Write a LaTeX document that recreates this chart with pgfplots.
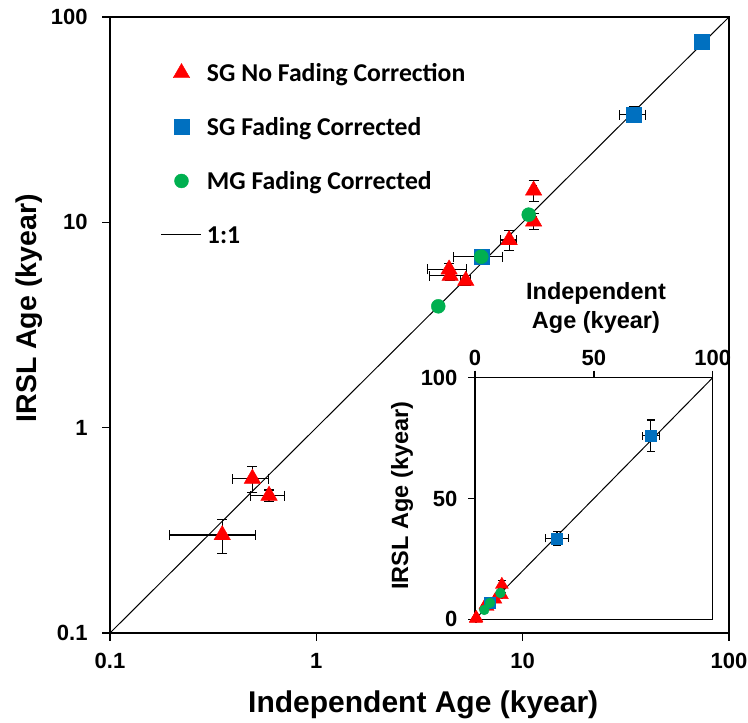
\documentclass[border=0pt]{standalone}
\usepackage{pgfplots}
\pgfplotsset{compat=1.18}
\usepackage{fontspec}
\setmainfont{Liberation Sans}
\newfontfamily\calib{Carlito}
\definecolor{sgred}{RGB}{255,0,0}
\definecolor{sgblue}{RGB}{0,112,192}
\definecolor{mggreen}{RGB}{0,176,80}

\pgfplotsset{
  eb/.style={error bars/.cd, x dir=both, x explicit, y dir=both, y explicit,
    error bar style={black, line width=1.1pt},
    error mark options={rotate=90, black, mark size=5pt, line width=1.1pt}},
  ebs/.style={error bars/.cd, x dir=both, x explicit, y dir=both, y explicit,
    error bar style={black, line width=1.1pt},
    error mark options={rotate=90, black, mark size=4pt, line width=1.1pt}},
}

\begin{document}
\begin{tikzpicture}
\useasboundingbox (-110pt,-90pt) rectangle (638pt,633pt);
\begin{axis}[
  at={(0pt,0pt)}, anchor=south west,
  scale only axis, width=619pt, height=616pt,
  xmode=log, ymode=log, xmin=0.1, xmax=100, ymin=0.1, ymax=100,
  xtick={0.1,1,10,100}, xticklabels={0.1,1,10,100},
  ytick={0.1,1,10,100}, yticklabels={0.1,1,10,100},
  xminorticks=false, yminorticks=false,
  xtick pos=left, ytick pos=left,
  tick align=outside, major tick length=8pt,
  major tick style={black, line width=1.3pt},
  axis line style={black, line width=1.5pt},
  tick label style={font=\fontsize{22}{26}\selectfont\bfseries},
  xticklabel style={yshift=-9pt},
  yticklabel style={xshift=-11pt},
  xlabel={Independent Age (kyear)},
  ylabel={IRSL Age (kyear)},
  xlabel style={font=\fontsize{30}{36}\selectfont\bfseries, at={(axis description cs:0.506,-0.117)}, anchor=center},
  ylabel style={font=\fontsize{28.5}{34}\selectfont\bfseries, at={(axis description cs:-0.131,0.527)}, anchor=center},
  legend image code/.code={\draw[mark repeat=2,mark phase=2] plot coordinates {(0pt,0pt)(20pt,0pt)(40pt,0pt)};},
  legend cell align=left,
  legend style={draw=none, fill=none, at={(axis description cs:0.0824,0.927)}, anchor=north west,
    inner sep=0pt, outer sep=0pt, row sep=32pt, column sep=5pt,
    font=\calib\bfseries\fontsize{25.7}{30}\selectfont,
    nodes={inner sep=0pt, text height=19.2pt, text depth=2.8pt}},
]
\addplot[only marks, color=sgred, mark=triangle*, mark size=9.5pt, mark options={fill=sgred, draw=sgred}, eb]
  coordinates {
  (0.35,0.30) +- (0.155,0.057)
  (0.49,0.565) +- (0.098,0.08)
  (0.59,0.467) +- (0.11,0.03)
  (4.4,5.9) +- (0.95,0.4)
  (4.45,5.5) +- (0.9,0.3)
  (5.3,5.2) +- (0.3,0.3)
  (8.6,8.2) +- (0.77,0.9)
  (11.3,14.3) +- (0.3,1.7)
  (11.3,10.1) +- (0.3,0.9)
  };
\addlegendentry{SG No Fading Correction}
\addplot[only marks, color=sgblue, mark=square*, mark size=7.5pt, mark options={fill=sgblue, draw=sgblue}, eb]
  coordinates {
  (6.3,6.8) +- (1.7,0.4)
  (34.5,33.5) +- (5,3)
  (74,76) +- (3.7,6.5)
  };
\addlegendentry{SG Fading Corrected}
\addplot[only marks, color=mggreen, mark=*, mark size=7pt, mark options={fill=mggreen, draw=mggreen}]
  coordinates {
  (3.9,3.9)
  (6.3,6.8)
  (10.7,10.9)
  };
\addlegendentry{MG Fading Corrected}
\addplot[black, line width=1pt, no marks] coordinates {(0.1,0.1) (100,100)};
\addlegendentry{1:1}
\end{axis}

\begin{axis}[
  at={(365pt,13.7pt)}, anchor=south west,
  scale only axis, width=237.7pt, height=241.6pt,
  xmin=0, xmax=100, ymin=0, ymax=100,
  xtick={0,50,100}, xticklabels={0,50,100},
  ytick={0,50,100}, yticklabels={0,50,100},
  xtick pos=right, xticklabel pos=right, ytick pos=left,
  tick align=outside, major tick length=7pt,
  major tick style={black, line width=1.3pt},
  axis line style={black, line width=1.4pt},
  tick label style={font=\fontsize{22}{26}\selectfont\bfseries},
  xticklabel style={yshift=1pt},
  yticklabel style={xshift=-7pt},
  clip=false,
  xlabel={Independent\\Age (kyear)},
  ylabel={IRSL Age (kyear)},
  xlabel style={align=center, font=\fontsize{23.5}{29}\selectfont\bfseries, at={(axis description cs:0.509,1.29)}, anchor=center},
  ylabel style={font=\fontsize{23.5}{29}\selectfont\bfseries, at={(axis description cs:-0.307,0.512)}, anchor=center},
]
\addplot[black, line width=1pt, no marks] coordinates {(0,0) (100,100)};
\addplot[only marks, color=sgred, mark=triangle*, mark size=7.5pt, mark options={fill=sgred, draw=sgred}, ebs]
  coordinates {
  (0.35,0.30) +- (0.155,0.057)
  (0.49,0.565) +- (0.098,0.08)
  (0.59,0.467) +- (0.11,0.03)
  (4.4,5.9) +- (0.95,0.4)
  (4.45,5.5) +- (0.9,0.3)
  (5.3,5.2) +- (0.3,0.3)
  (8.6,8.2) +- (0.77,0.9)
  (11.3,14.3) +- (0.3,1.7)
  (11.3,10.1) +- (0.3,0.9)
  };
\addplot[only marks, color=sgblue, mark=square*, mark size=5.5pt, mark options={fill=sgblue, draw=sgblue}, ebs]
  coordinates {
  (6.3,6.8) +- (1.7,0.4)
  (34.5,33.5) +- (5,3)
  (74,76) +- (3.7,6.5)
  };
\addplot[only marks, color=mggreen, mark=*, mark size=5pt, mark options={fill=mggreen, draw=mggreen}]
  coordinates {
  (3.9,3.9) (6.3,6.8) (10.7,10.9)
  };
\end{axis}
\end{tikzpicture}
\end{document}
